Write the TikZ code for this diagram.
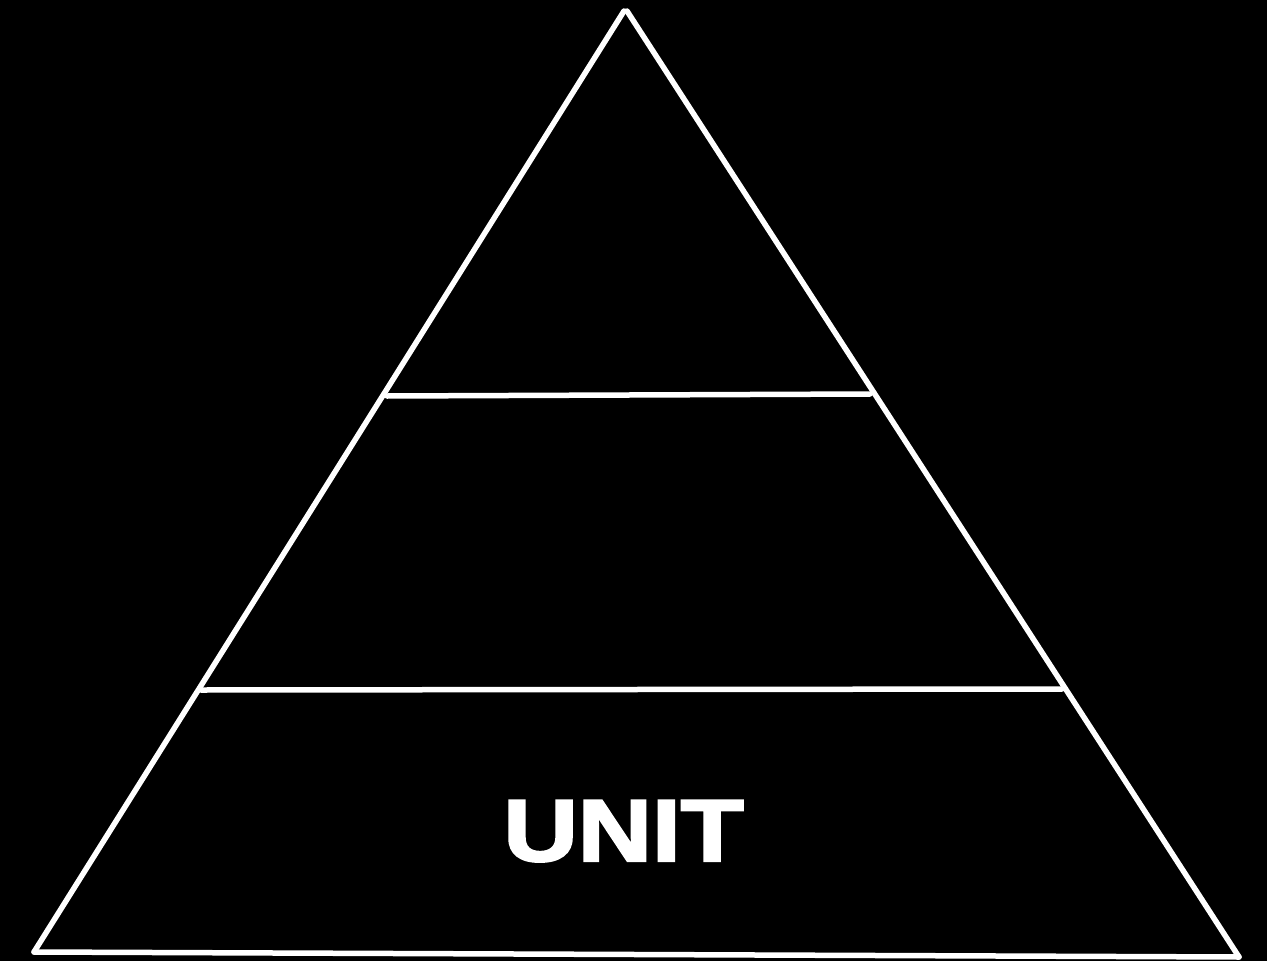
\documentclass[tikz,border=0pt]{standalone}
\usepackage{fontspec}
\setmainfont{Liberation Sans}
\newfontfamily\heavyfont[FakeBold=2.5]{Liberation Sans Bold}
\begin{document}
\begin{tikzpicture}[x=1pt,y=-1pt,
  edge/.style={draw=white,line width=5.5pt,line cap=round},
  label/.style={text=white,inner sep=0pt,anchor=base,font=\fontsize{88}{88}\heavyfont}]
\fill[black] (0,0) rectangle (1267,961);
\useasboundingbox (0,0) rectangle (1267,961);
\coordinate (apexL) at (624,11);
\coordinate (apexR) at (627,11);
\coordinate (bl) at (34,952);
\coordinate (br) at (1239,957);
\coordinate (m1l) at (387,396);
\coordinate (m1r) at (870,394);
\coordinate (m2l) at (201,690);
\coordinate (m2r) at (1062,689);
\draw[edge] (bl) -- (apexL);
\draw[edge] (apexR) -- (br);
\draw[edge] (bl) -- (br);
\draw[edge] (m1l) -- (m1r);
\draw[edge] (m2l) -- (m2r);
\node[label] (unit) at (623.5,861) {\scalebox{1.17}[1]{UNIT}};
\end{tikzpicture}
\end{document}
